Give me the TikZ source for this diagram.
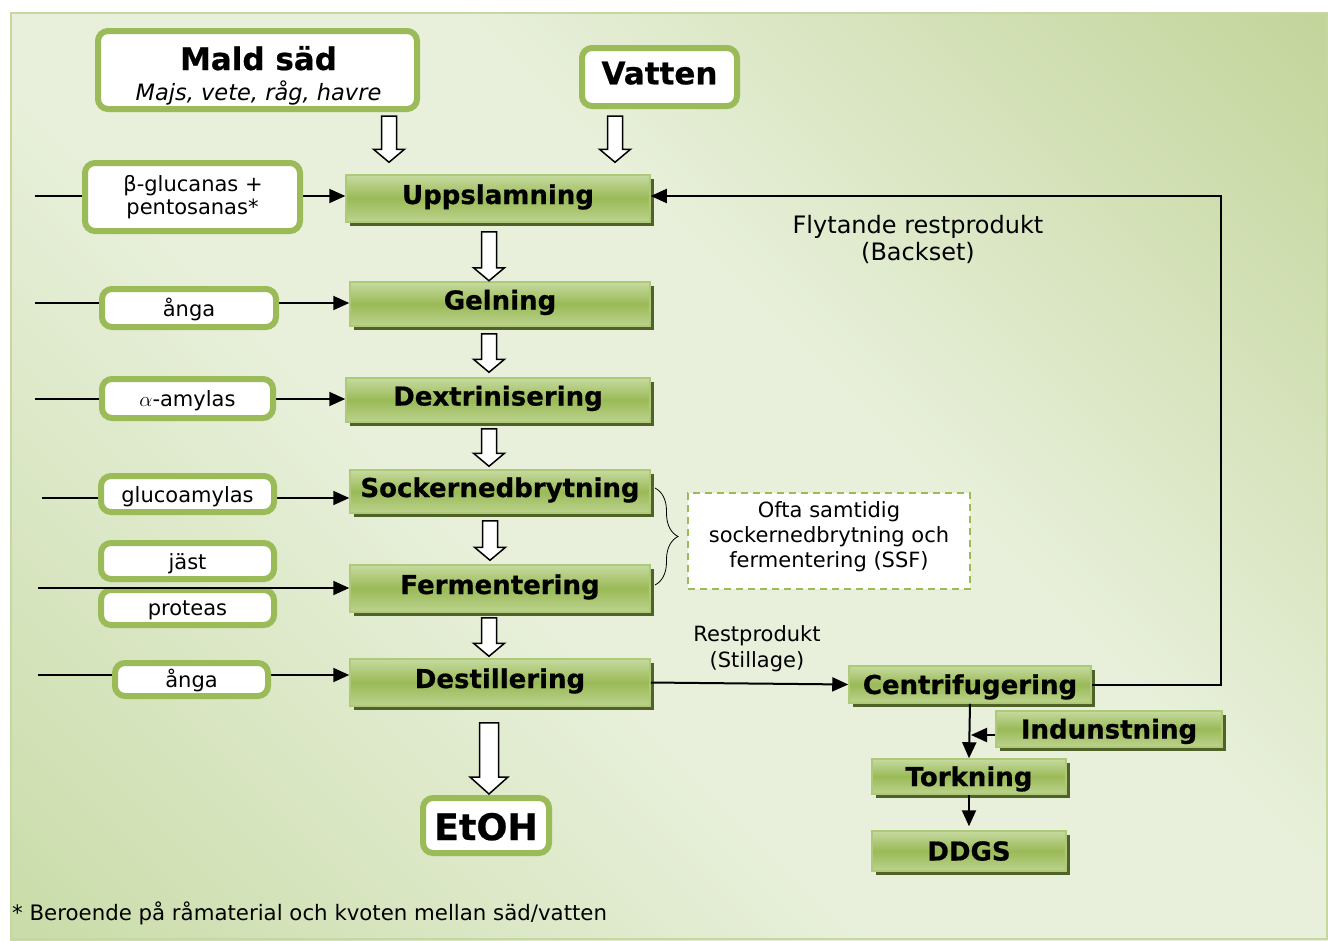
\documentclass[tikz,border=0pt]{standalone}
\usepackage{fontspec}
\setmainfont{DejaVu Sans}[ItalicFont={DejaVu Sans Oblique},BoldItalicFont={DejaVu Sans Bold Oblique}]
\newfontfamily\heavyfont{DejaVu Sans Bold}[FakeBold=0.6]
\usetikzlibrary{arrows.meta,shadows,calc,decorations.pathreplacing}
\definecolor{gbord}{HTML}{9BBB59}
\definecolor{procT}{HTML}{C6DAA0}
\definecolor{procM}{HTML}{9ABA57}
\definecolor{procBot}{HTML}{BCD38E}
\definecolor{procB}{HTML}{AECA78}
\definecolor{procS}{HTML}{4F6228}
\definecolor{bgL}{HTML}{E8F0DB}
\definecolor{bgTR}{HTML}{C3D59B}
\definecolor{bgBL}{HTML}{CADCA9}
\definecolor{bgEdge}{HTML}{C5D8A2}
\pgfdeclarehorizontalshading{bgsh}{100bp}{color(0bp)=(bgBL); color(15bp)=(bgBL); color(42bp)=(bgL); color(58bp)=(bgL); color(85bp)=(bgTR); color(100bp)=(bgTR)}
\pgfdeclarelayer{bottom}
\pgfdeclarelayer{lines}
\pgfsetlayers{bottom,lines,main}
% #1 x, #2 from node, #3 gap below, #4 to node, #5 gap above, #6 half shaft, #7 half head, #8 head length
\newcommand\hollowarr[8]{%
  \draw[hollow] let \p1=(#2.south), \p2=(#4.north) in
    (#1pt-#6pt,\y1-#3pt) -- (#1pt+#6pt,\y1-#3pt) -- (#1pt+#6pt,\y2+#5pt+#8pt)
    -- (#1pt+#7pt,\y2+#5pt+#8pt) -- (#1pt,\y2+#5pt) -- (#1pt-#7pt,\y2+#5pt+#8pt)
    -- (#1pt-#6pt,\y2+#5pt+#8pt) -- cycle;}
\begin{document}
\begin{tikzpicture}[x=1pt,y=-1pt,
  proc/.style={draw=procB, line width=1.5pt, top color=procT, bottom color=procBot, middle color=procM,
    drop shadow={shadow xshift=3.5pt, shadow yshift=-4pt, fill=procS, opacity=1},
    font=\fontsize{26}{26}\selectfont\heavyfont, inner sep=0pt, text depth=0pt, text height=11pt},
  procr/.style={proc, text height=19pt},
  wbox/.style={draw=gbord, line width=6pt, fill=white, rounded corners=10pt, inner sep=0pt,
    font=\fontsize{21}{25}\selectfont, text depth=0pt, text height=16pt},
  txt/.style={font=\fontsize{21}{25}\selectfont, anchor=base, inner sep=0pt},
  hollow/.style={draw=black, line width=1.5pt, fill=white, line join=miter},
  feed/.style={line width=2pt, -{Triangle[length=16pt,width=14pt]}},
]
\useasboundingbox (0,0) rectangle (1328,940);
\begin{pgfonlayer}{bottom}
  \shade[shading=bgsh, shading angle=45] (10,12) rectangle (1328,940);
  \draw[bgEdge, line width=2.5pt] (11,13) rectangle (1327,939);
\end{pgfonlayer}

% white input boxes
\node[wbox, minimum width=319pt, minimum height=78pt] (mald) at (257.5,70) {};
\node[txt, font=\fontsize{31}{31}\selectfont\heavyfont] at (258.5,70) {Mald säd};
\node[txt, font=\fontsize{22.5}{25}\selectfont\itshape] at (258.5,100) {Majs, vete, råg, havre};
\node[wbox, minimum width=155pt, minimum height=58pt, font=\fontsize{31}{31}\selectfont\heavyfont, text height=14.6pt] (vatten) at (659.5,77) {Vatten};
\node[wbox, minimum width=215pt, minimum height=68pt] (beta) at (192.5,197) {};
\node[txt] at (193,191) {β-glucanas +};
\node[txt] at (192.5,214.5) {pentosanas*};
\node[wbox, minimum width=174pt, minimum height=38pt] (anga1) at (189,308) {ånga};
\node[wbox, minimum width=171pt, minimum height=39pt] (alpha) at (187.5,398.5) {$\alpha$-amylas};
\node[wbox, minimum width=173pt, minimum height=36pt] (gluco) at (187.5,494) {glucoamylas};
\node[wbox, minimum width=173pt, minimum height=36pt] (jast) at (187.5,561) {jäst};
\node[wbox, minimum width=173pt, minimum height=35pt] (prot) at (187.5,607.5) {proteas};
\node[wbox, minimum width=153pt, minimum height=33pt] (anga2) at (191.5,679.5) {ånga};
\node[wbox, minimum width=126pt, minimum height=55pt, font=\fontsize{36.5}{36.5}\selectfont\heavyfont, text height=29pt] (etoh) at (486,825.5) {EtOH};

% process boxes
\node[proc, minimum width=304pt, minimum height=47pt] (upps) at (498,198.5) {Uppslamning};
\node[proc, minimum width=300pt, minimum height=44pt] (gel) at (500,304) {Gelning};
\node[proc, minimum width=304pt, minimum height=44pt] (dext) at (498,400) {Dextrinisering};
\node[proc, minimum width=300pt, minimum height=43pt] (sock) at (500,491.5) {Sockernedbrytning};
\node[proc, minimum width=300pt, minimum height=47pt] (ferm) at (500,588.5) {Fermentering};
\node[proc, minimum width=300pt, minimum height=47pt] (dest) at (500,682.5) {Destillering};
\node[procr, minimum width=242pt, minimum height=37pt] (cent) at (970,684.5) {Centrifugering};
\node[procr, minimum width=226pt, minimum height=36pt] (indu) at (1109,729) {Indunstning};
\node[procr, minimum width=194pt, minimum height=35pt] (tork) at (969,776.5) {Torkning};
\node[procr, minimum width=194pt, minimum height=40pt] (ddgs) at (969,851) {DDGS};

% SSF note
\node[draw=gbord, dash pattern=on 7pt off 5pt, line width=2.5pt, fill=white, minimum width=282pt, minimum height=96pt] (ssf) at (829,541) {};
\node[txt] at (829,517) {Ofta samtidig};
\node[txt] at (829,542) {sockernedbrytning och};
\node[txt] at (829,567) {fermentering (SSF)};
\coordinate (brt) at (655,488);
\coordinate (brb) at (655,585);
\draw[decorate, decoration={brace, amplitude=23pt}, line width=0.8pt] (brt) -- (brb);

% labels
\node[txt, font=\fontsize{24}{27}\selectfont] at (918,233) {Flytande restprodukt};
\node[txt, font=\fontsize{24}{27}\selectfont] at (918,260) {(Backset)};
\node[txt] at (757,641) {Restprodukt};
\node[txt] at (757,667) {(Stillage)};
\node[txt, anchor=base west, font=\fontsize{21.3}{25}\selectfont] (fn) at (12,920) {* Beroende på råmaterial och kvoten mellan säd/vatten};

% feed lines
\coordinate (f1) at (35,196);
\coordinate (f2) at (35,303);
\coordinate (f3) at (35,399);
\coordinate (f4) at (42,498);
\coordinate (f5) at (38,588);
\coordinate (f6) at (38,675);
\begin{pgfonlayer}{lines}
  \draw[feed] (f1) -- (f1 -| upps.west);
  \draw[feed] (f2) -- (f2 -| gel.west);
  \draw[feed] (f3) -- (f3 -| dext.west);
  \draw[feed] (f4) -- (f4 -| sock.west);
  \draw[feed] (f6) -- (f6 -| dest.west);
\end{pgfonlayer}
\draw[feed] (f5) -- (f5 -| ferm.west);

% output flows
\coordinate (bs) at (1221,196);
\coordinate (ia) at ($(indu.west)+(0,6)$);
\coordinate (ib) at (971,0);
\draw[feed] (dest.east) -- (cent.west);
\draw[feed] (cent.east) -| (bs) -- (bs -| upps.east);
\draw[feed] (cent.south) -- (tork.north);
\draw[feed] (ia) -- (ia -| ib);
\draw[feed, shorten >=4pt] (tork.south) -- (ddgs.north);

% hollow block arrows
\hollowarr{389}{mald}{4}{upps}{12}{7.5}{15.5}{13}
\hollowarr{615}{vatten}{7}{upps}{12}{7.5}{15.5}{13}
\hollowarr{489}{upps}{9}{gel}{0.5}{7.5}{15.5}{13}
\hollowarr{489}{gel}{7}{dext}{5}{7.5}{15.5}{13}
\hollowarr{489}{dext}{6}{sock}{3}{7.5}{15.5}{13}
\hollowarr{490}{sock}{7}{ferm}{4}{7.5}{15.5}{13}
\hollowarr{489}{ferm}{5}{dest}{2}{7.5}{15.5}{13}
\hollowarr{489}{dest}{16}{etoh}{1}{9.5}{19}{17}
\end{tikzpicture}
\end{document}
